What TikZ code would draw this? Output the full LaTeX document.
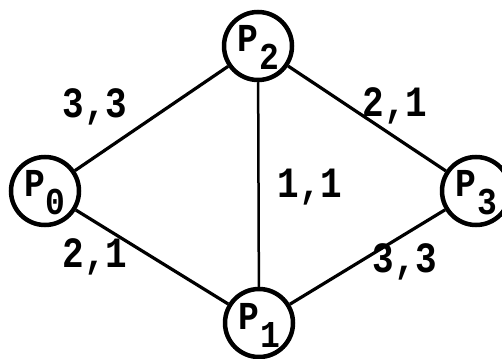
\documentclass[tikz,border=0pt]{standalone}
\usepackage{fontspec}
\setmonofont{Liberation Mono}
\newcommand{\plab}[1]{\ttfamily\bfseries\fontsize{33}{33}\selectfont\rule{0pt}{30pt}\scalebox{1.05}[1.2]{P}\kern1pt\raisebox{-18pt}{\scalebox{1}[1.15]{#1}}}
\newcommand{\wlab}[1]{\scalebox{1}[1.2]{#1}}
\begin{document}
\begin{tikzpicture}[x=1pt,y=-1pt,
  proc/.style={draw,circle,line width=4.5pt,minimum size=68pt,inner sep=0pt},
  edge/.style={line width=3.2pt},
  wt/.style={font=\ttfamily\bfseries\fontsize{36}{36}\selectfont,inner sep=0pt}]
\useasboundingbox (0,0) rectangle (502,358);
\node[proc] (P0) at (45,191) {\plab{0}};
\node[proc] (P2) at (258,46) {\plab{2}};
\node[proc] (P3) at (476,191) {\plab{3}};
\node[proc] (P1) at (259,323) {\plab{1}};
\draw[edge] (P0) -- (P2);
\draw[edge] (P0) -- (P1);
\draw[edge] (P2) -- (P3);
\draw[edge] (P1) -- (P3);
\draw[line width=2.5pt] (P2) -- (P1);
\node[wt] (l1) at (95,107) {\wlab{3,3}};
\node[wt] (l2) at (395,106) {\wlab{2,1}};
\node[wt] (l3) at (310,187) {\wlab{1,1}};
\node[wt] (l4) at (95,257) {\wlab{2,1}};
\node[wt] (l5) at (405,262) {\wlab{3,3}};
\end{tikzpicture}
\end{document}
